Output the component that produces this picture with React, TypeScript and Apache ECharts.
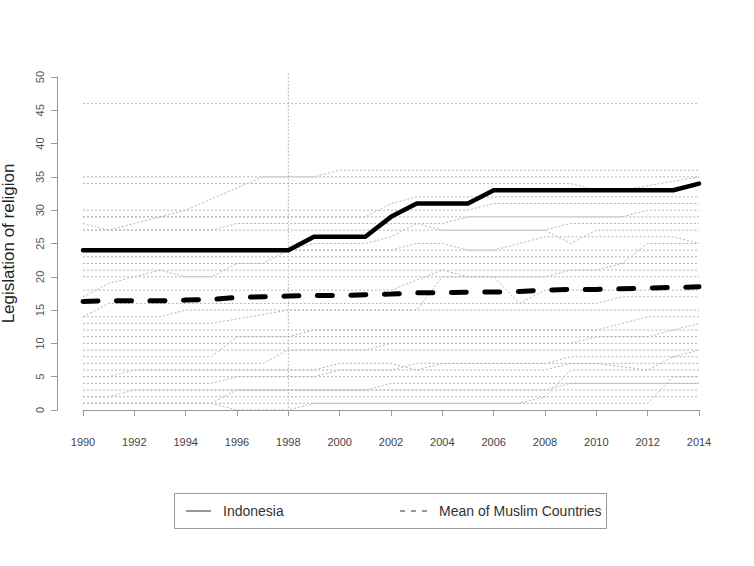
import React, { useEffect, useRef } from "react";
import * as echarts from "echarts";

const years = [1990, 1991, 1992, 1993, 1994, 1995, 1996, 1997, 1998, 1999, 2000, 2001, 2002, 2003, 2004, 2005, 2006, 2007, 2008, 2009, 2010, 2011, 2012, 2013, 2014];
const indonesia = [24, 24, 24, 24, 24, 24, 24, 24, 24, 26, 26, 26, 29, 31, 31, 31, 33, 33, 33, 33, 33, 33, 33, 33, 34];
const meanMuslim = [16.3, 16.4, 16.4, 16.4, 16.5, 16.6, 16.9, 17.0, 17.1, 17.2, 17.2, 17.3, 17.4, 17.6, 17.6, 17.7, 17.7, 17.8, 18.0, 18.1, 18.1, 18.2, 18.3, 18.4, 18.5];
const markerYear = 1998;

// other Muslim countries: [year, value] breakpoints
const otherCountries: number[][][] = [
  [[1990, 46], [2014, 46]],
  [[1990, 28], [1991, 27], [1992, 28], [1993, 29], [1994, 30], [1997, 35], [1999, 35], [2000, 36], [2014, 36]],
  [[1990, 35], [2014, 35]],
  [[1990, 34], [2009, 34], [2010, 33], [2011, 33], [2014, 35]],
  [[1990, 29], [2001, 29], [2002, 31], [2003, 32], [2014, 32]],
  [[1990, 30], [2005, 30], [2006, 31], [2014, 31]],
  [[1990, 29], [2011, 29], [2012, 30], [2014, 30]],
  [[1990, 27], [1995, 27], [1996, 28], [2004, 28], [2005, 29], [2014, 29]],
  [[1990, 27], [2008, 27], [2009, 28], [2014, 28]],
  [[1990, 17], [1991, 19], [1993, 21], [1994, 20], [1995, 20], [1996, 22], [1997, 22], [1998, 24], [1999, 25], [2001, 25], [2002, 26], [2003, 28], [2004, 27], [2008, 27], [2009, 25], [2010, 27], [2014, 27]],
  [[1990, 24], [2002, 24], [2003, 25], [2004, 25], [2005, 24], [2006, 24], [2008, 26], [2013, 26], [2014, 25]],
  [[1990, 24], [2014, 24]],
  [[1990, 23], [2014, 23]],
  [[1990, 22], [2014, 22]],
  [[1990, 21], [2014, 21]],
  [[1990, 20], [2008, 20], [2009, 21], [2010, 21], [2011, 22], [2012, 25], [2014, 25]],
  [[1990, 18], [2002, 18], [2004, 21], [2005, 20], [2006, 20], [2007, 16], [2008, 18], [2014, 18]],
  [[1990, 14], [1991, 16], [2010, 16], [2011, 17], [2014, 17]],
  [[1990, 14], [1993, 14], [1994, 15], [2003, 15], [2004, 20], [2014, 20]],
  [[1990, 13], [1995, 13], [1998, 15], [2014, 15]],
  [[1990, 12], [2010, 12], [2012, 14], [2014, 14]],
  [[1990, 7], [1997, 7], [1998, 9], [2001, 9], [2002, 10], [2009, 10], [2010, 11], [2012, 11], [2014, 13]],
  [[1990, 8], [1995, 8], [1996, 11], [1998, 11], [1999, 12], [2014, 12]],
  [[1990, 11], [2014, 11]],
  [[1990, 10], [2014, 10]],
  [[1990, 9], [2014, 9]],
  [[1990, 5], [1991, 5], [1992, 6], [2008, 6], [2009, 7], [2010, 7], [2012, 6], [2013, 8], [2014, 9]],
  [[1990, 6], [1999, 6], [2000, 7], [2002, 7], [2003, 6], [2004, 7], [2014, 7]],
  [[1990, 4], [1995, 4], [1996, 5], [1999, 5], [2000, 6], [2002, 6], [2003, 7], [2008, 7], [2009, 8], [2014, 8]],
  [[1990, 5], [2014, 5]],
  [[1990, 2], [1991, 2], [1992, 3], [2001, 3], [2002, 4], [2014, 4]],
  [[1990, 1], [1995, 1], [1996, 3], [2008, 3], [2009, 4], [2014, 4]],
  [[1990, 3], [2014, 3]],
  [[1990, 1], [1995, 1], [1996, 0], [1998, 0], [1999, 1], [2007, 1], [2008, 2], [2009, 6], [2014, 6]],
  [[1990, 1], [2012, 1], [2013, 5], [2014, 5]],
  [[1990, 2], [2014, 2]],
];

const FONT = "'Liberation Sans', Arial, sans-serif";

export default function App() {
  const ref = useRef<HTMLDivElement>(null);
  useEffect(() => {
    if (!ref.current) return;
    const chart = echarts.init(ref.current, null, { renderer: "svg" });
    const greySeries = otherCountries.map((pts, i) => ({
      type: "line",
      name: "c" + i,
      data: pts,
      symbol: "none",
      silent: true,
      lineStyle: { color: "#b4b4b4", width: 1, type: [2, 2] },
      z: 1,
    }));
    chart.setOption({
      animation: false,
      backgroundColor: "#fff",
      grid: { left: 83, right: 55, top: 77, bottom: 156, containLabel: false, outerBoundsMode: "none" },
      xAxis: {
        type: "value",
        min: 1990,
        max: 2014,
        interval: 2,
        offset: 15,
        axisLine: { show: true, lineStyle: { color: "#999", width: 1 } },
        axisTick: { show: true, length: 6, lineStyle: { color: "#999" } },
        axisLabel: { color: "#444", fontSize: 11, fontFamily: FONT, margin: 11, formatter: (v: number) => String(v) },
        splitLine: { show: false },
      },
      yAxis: {
        type: "value",
        min: 0,
        max: 50,
        interval: 5,
        offset: 26,
        name: "Legislation of religion",
        nameLocation: "middle",
        nameGap: 40,
        nameRotate: 90,
        nameTextStyle: { color: "#222", fontSize: 17, fontFamily: FONT },
        axisLine: { show: true, lineStyle: { color: "#999", width: 1 } },
        axisTick: { show: true, length: 6, lineStyle: { color: "#999" } },
        axisLabel: { color: "#555", fontSize: 11, fontFamily: FONT, rotate: 90, margin: 12 },
        splitLine: { show: false },
      },
      series: [
        ...greySeries,
        {
          type: "line",
          name: "marker",
          data: [[markerYear, -0.2], [markerYear, 50.6]],
          symbol: "none",
          clip: false,
          silent: true,
          lineStyle: { color: "#aaa", width: 1, type: [1.5, 2] },
          z: 1,
        },
        {
          type: "line",
          name: "Mean of Muslim Countries",
          data: years.map((y, i) => [y, meanMuslim[i]]),
          symbol: "none",
          lineStyle: { color: "#000", width: 5, type: [15, 18.5], cap: "round" },
          z: 3,
        },
        {
          type: "line",
          name: "Indonesia",
          data: years.map((y, i) => [y, indonesia[i]]),
          symbol: "none",
          lineStyle: { color: "#000", width: 4.5, join: "round", cap: "round" },
          z: 4,
        },
      ],
      graphic: [
        {
          type: "rect",
          shape: { x: 174.5, y: 493.5, width: 432, height: 35 },
          style: { fill: "#fff", stroke: "#999", lineWidth: 1 },
        },
        {
          type: "line",
          shape: { x1: 186, y1: 511, x2: 211, y2: 511 },
          style: { stroke: "#333", lineWidth: 1 },
        },
        {
          type: "text",
          x: 223,
          y: 511,
          style: { text: "Indonesia", fontSize: 14, fontFamily: FONT, fill: "#333", verticalAlign: "middle", align: "left" },
        },
        {
          type: "line",
          shape: { x1: 400, y1: 511, x2: 428, y2: 511 },
          style: { stroke: "#333", lineWidth: 1, lineDash: [5, 6] },
        },
        {
          type: "text",
          x: 439,
          y: 511,
          style: { text: "Mean of Muslim Countries", fontSize: 14, fontFamily: FONT, fill: "#333", verticalAlign: "middle", align: "left" },
        },
      ],
    });
    return () => chart.dispose();
  }, []);
  return (
    <div
      ref={ref}
      style={{ position: "fixed", left: 0, top: 0, width: 754, height: 566, background: "#fff" }}
    />
  );
}
